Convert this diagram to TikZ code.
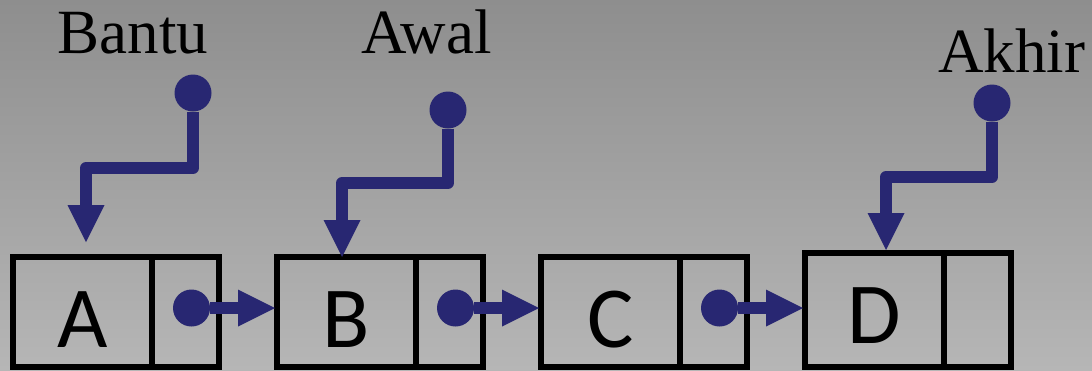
\documentclass[tikz,border=0pt]{standalone}
\usepackage{fontspec}
\setmainfont{Liberation Serif}
\newfontfamily\cellfont{Carlito}
\usetikzlibrary{positioning,arrows.meta}

\definecolor{ptrblue}{RGB}{40,39,114}
\definecolor{bgtop}{RGB}{142,142,142}
\definecolor{bgbottom}{RGB}{182,182,182}

\tikzset{
	datacell/.style={draw=black,line width=5.5pt,inner sep=0pt,outer sep=0pt,minimum width=139pt,minimum height=110pt,text height=70pt,text depth=0pt,font=\cellfont\fontsize{87}{87}\selectfont},
	linkcell/.style={draw=black,line width=5.5pt,inner sep=0pt,outer sep=0pt,minimum width=67pt,minimum height=110pt},
	ptr/.style={draw=ptrblue,line width=12pt,line join=round,{Circle[length=37pt,line width=0pt]}-{Triangle[length=37pt,width=37pt,line width=0pt]}},
	varlabel/.style={anchor=base,inner sep=0pt,font=\fontsize{63}{63}\selectfont}
}

\begin{document}
\begin{tikzpicture}[x=1pt,y=-1pt]
	\useasboundingbox (0,0) rectangle (1092,370);
	\shade[top color=bgtop,bottom color=bgbottom] (0,0) rectangle (1092,370);

	% list nodes
	\node[datacell] (A) at (82.5,312) {A};
	\node[linkcell,right=0pt of A] (Anext) {};
	\node[datacell,right=58pt of Anext] (B) {B};
	\node[linkcell,right=0pt of B] (Bnext) {};
	\node[datacell,right=58pt of Bnext] (C) {C};
	\node[linkcell,right=0pt of C] (Cnext) {};
	\node[datacell,minimum height=114pt,text height=66pt] (D) at (874.5,310) {D};
	\node[linkcell,minimum height=114pt,right=0pt of D] (Dnext) {};

	% next links
	\draw[ptr,shorten >=2pt] ([xshift=-12.5pt,yshift=4pt]Anext.center) -- ([yshift=4pt]B.west);
	\draw[ptr,shorten >=2pt] ([xshift=-12.5pt,yshift=4pt]Bnext.center) -- ([yshift=4pt]C.west);
	\draw[ptr,shorten >=2pt] ([xshift=-12.5pt,yshift=4pt]Cnext.center) -- ([yshift=2pt]D.west);

	% pointer variables
	\node[varlabel] (lbantu) at (133,53) {Bantu};
	\node[varlabel] (lawal) at (426.5,53) {Awal};
	\node[varlabel] (lakhir) at (1011.5,72) {Akhir};

	\coordinate (bantu) at (193,74.5);
	\coordinate (awal) at (448,91.5);
	\coordinate (akhir) at (992,84.5);

	\draw[ptr,shorten >=15pt] (bantu) -- ++(0,93.5) -| ([xshift=3.5pt]A.north);
	\draw[ptr] (awal) -- ++(0,91.5) -| ([xshift=-4.5pt]B.north);
	\draw[ptr,shorten >=3pt] (akhir) -- ++(0,92.5) -| ([xshift=11.5pt]D.north);
\end{tikzpicture}
\end{document}
